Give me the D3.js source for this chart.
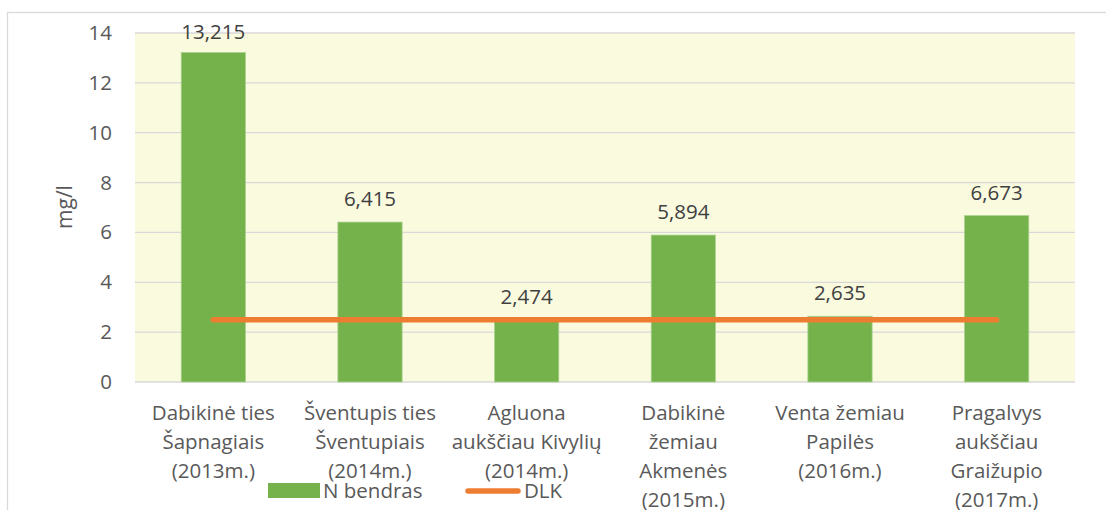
<!DOCTYPE html>
<html>
<head>
<meta charset="utf-8">
<script src="https://cdn.jsdelivr.net/npm/d3@7"></script>
<style>
  body { margin: 0; background: #fff; }
  svg { display: block; font-family: "Open Sans", sans-serif; }
</style>
</head>
<body>
<svg id="chart" width="1106" height="510"></svg>
<script>
// --- data ---
const categories = [
  "Dabikinė ties\nŠapnagiais\n(2013m.)",
  "Šventupis ties\nŠventupiais\n(2014m.)",
  "Agluona\naukščiau Kivylių\n(2014m.)",
  "Dabikinė\nžemiau\nAkmenės\n(2015m.)",
  "Venta žemiau\nPapilės\n(2016m.)",
  "Pragalvys\naukščiau\nGraižupio\n(2017m.)"
];
const nBendras = [13.215, 6.415, 2.474, 5.894, 2.635, 6.673];
const dlk = [2.5, 2.5, 2.5, 2.5, 2.5, 2.5];
const yTicks = [0, 2, 4, 6, 8, 10, 12, 14];
const seriesNames = ["N bendras", "DLK"];

const svg = d3.select("#chart");

// styles
const barColor = "#75b24b";
const barStroke = "#a9d18e";
const lineColor = "#ed7d31";
const gridColor = "#d9d9d9";
const plotBg = "#fafadf";
const tickColor = "#595959";
const labelColor = "#404040";
const fs = "20.5px";

const plot = { left: 135, right: 1075, top: 33, bottom: 382 };

// outer chart border (runs off the right and bottom edges)
svg.append("rect")
  .attr("x", 7.5).attr("y", 12.5)
  .attr("width", 1200).attr("height", 600)
  .attr("fill", "none").attr("stroke", gridColor).attr("stroke-width", 1.3);

const x = d3.scaleBand()
  .domain(d3.range(categories.length))
  .range([plot.left, plot.right])
  .paddingInner(0.59).paddingOuter(0.295);

const y = d3.scaleLinear().domain([0, 14]).range([plot.bottom, plot.top]);

// plot background
svg.append("rect")
  .attr("x", plot.left).attr("y", plot.top)
  .attr("width", plot.right - plot.left).attr("height", plot.bottom - plot.top)
  .attr("fill", plotBg);

// gridlines
svg.append("g").selectAll("line")
  .data(yTicks)
  .join("line")
  .attr("x1", plot.left).attr("x2", plot.right)
  .attr("y1", d => y(d)).attr("y2", d => y(d))
  .attr("stroke", gridColor)
  .attr("stroke-width", d => d === 0 ? 1.6 : 1.3);

// y axis tick labels
const yAxis = d3.axisLeft(y).tickValues(yTicks).tickSize(0).tickPadding(0);
const yg = svg.append("g").attr("transform", `translate(${plot.left - 23},0)`).call(yAxis);
yg.select(".domain").remove();
yg.selectAll("text")
  .attr("fill", tickColor)
  .style("font-size", fs)
  .style("font-family", "'Open Sans', sans-serif");

// y axis title
svg.append("text")
  .attr("transform", "translate(72,207) rotate(-90)")
  .attr("text-anchor", "middle")
  .attr("fill", tickColor)
  .style("font-size", "21px")
  .text("mg/l");

// bars
svg.append("g").selectAll("rect")
  .data(nBendras)
  .join("rect")
  .attr("x", (d, i) => x(i))
  .attr("y", d => y(d))
  .attr("width", x.bandwidth())
  .attr("height", d => y(0) - y(d))
  .attr("fill", barColor)
  .attr("stroke", barStroke)
  .attr("stroke-width", 0.8);

// DLK line across category centres
const line = d3.line()
  .x((d, i) => x(i) + x.bandwidth() / 2)
  .y(d => y(d));
svg.append("path")
  .datum(dlk)
  .attr("d", line)
  .attr("fill", "none")
  .attr("stroke", lineColor)
  .attr("stroke-width", 5.5)
  .attr("stroke-linecap", "round");

// data labels
svg.append("g").selectAll("text")
  .data(nBendras)
  .join("text")
  .attr("x", (d, i) => x(i) + x.bandwidth() / 2)
  .attr("y", d => Math.max(y(d) - 16, y(14) + 6))
  .attr("text-anchor", "middle")
  .attr("fill", labelColor)
  .style("font-size", fs)
  .text(d => d.toFixed(3).replace(".", ","));

// category labels
const catG = svg.append("g").selectAll("text")
  .data(categories)
  .join("text")
  .attr("x", (d, i) => x(i) + x.bandwidth() / 2)
  .attr("y", 420)
  .attr("text-anchor", "middle")
  .attr("fill", tickColor)
  .style("font-size", fs);
catG.selectAll("tspan")
  .data(d => d.split("\n"))
  .join("tspan")
  .attr("x", function () { return this.parentNode.getAttribute("x"); })
  .attr("dy", (d, i) => i === 0 ? 0 : 29)
  .text(d => d);

// legend
const legend = svg.append("g");
legend.append("rect")
  .attr("x", 268).attr("y", 483).attr("width", 52).attr("height", 15)
  .attr("fill", barColor);
legend.append("text")
  .attr("x", 323).attr("y", 498)
  .attr("fill", tickColor).style("font-size", fs)
  .text(seriesNames[0]);
legend.append("line")
  .attr("x1", 468).attr("x2", 518).attr("y1", 491).attr("y2", 491)
  .attr("stroke", lineColor).attr("stroke-width", 5.5).attr("stroke-linecap", "round");
legend.append("text")
  .attr("x", 524).attr("y", 498)
  .attr("fill", tickColor).style("font-size", fs)
  .text(seriesNames[1]);
</script>
</body>
</html>
